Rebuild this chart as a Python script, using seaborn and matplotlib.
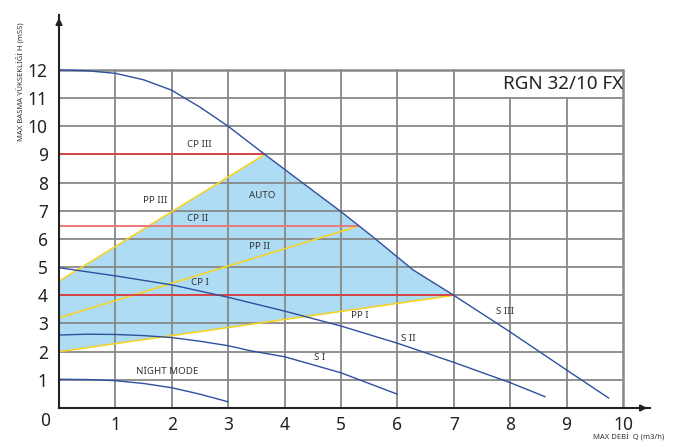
import matplotlib
matplotlib.use("Agg")
import matplotlib.pyplot as plt
import seaborn as sns

sns.set_theme(style="white")
plt.rcParams['font.family'] = ['Noto Sans', 'DejaVu Sans']

# ---- data ----
s3_q = [0, 0.5, 1, 1.5, 2, 2.23, 2.5, 3, 3.39, 3.65, 4.3, 5, 5.55, 6.28, 7, 8, 9, 9.75]
s3_h = [12, 11.97, 11.88, 11.65, 11.28, 11.0, 10.68, 10.0, 9.4, 9.0, 8.02, 6.97, 6.1, 4.9, 4.0, 2.7, 1.35, 0.35]
s2_q = [0, 1, 2, 3, 4, 5, 6, 7, 8, 8.62]
s2_h = [4.98, 4.69, 4.37, 3.93, 3.44, 2.91, 2.30, 1.62, 0.90, 0.40]
s1_q = [0, 0.5, 1, 1.5, 2, 2.5, 3, 3.4, 4, 5, 6]
s1_h = [2.59, 2.62, 2.61, 2.57, 2.50, 2.37, 2.21, 2.03, 1.82, 1.25, 0.49]
nm_q = [0, 0.5, 1, 1.5, 2, 2.5, 3]
nm_h = [1.02, 1.01, 0.97, 0.87, 0.72, 0.49, 0.22]

pp3_q = [0, 3.65]; pp3_h = [4.5, 9.0]
pp2_q = [0, 5.3];  pp2_h = [3.2, 6.45]
pp1_q = [0, 7];    pp1_h = [2.0, 4.0]
left_q = [0, 0];   left_h = [2.0, 4.5]

cp3_q = [0, 3.65]; cp3_h = [9.0, 9.0]
cp2_q = [0, 5.3];  cp2_h = [6.45, 6.45]
cp1_q = [0, 7];    cp1_h = [4.0, 4.0]

# AUTO region polygon: PP I, then S III up to PP III end, back down PP III
auto_q = [0, 7, 6.28, 5.55, 5, 4.3, 3.65, 0]
auto_h = [2.0, 4.0, 4.9, 6.1, 6.97, 8.02, 9.0, 4.5]

x_ticks = [1, 2, 3, 4, 5, 6, 7, 8, 9, 10]
y_ticks = [1, 2, 3, 4, 5, 6, 7, 8, 9, 10, 11, 12]

labels = [("CP III", 2.48, 9.34), ("PP III", 1.70, 7.35), ("CP II", 2.46, 6.71),
          ("AUTO", 3.60, 7.53), ("PP II", 3.55, 5.75), ("CP I", 2.50, 4.47),
          ("PP I", 5.34, 3.30), ("S II", 6.20, 2.45), ("S I", 4.63, 1.81),
          ("NİGHT MODE", 1.92, 1.28), ("S III", 7.90, 3.44)]
title = "RGN 32/10 FX"
xlabel = "MAX DEBİ  Q (m3/h)"
ylabel = "MAX BASMA YÜKSEKLİĞİ H (mSS)"

# ---- figure ----
W, H = 685, 447
fig = plt.figure(figsize=(W / 100, H / 100), dpi=100)
ax = fig.add_axes([59 / W, 39 / H, (650 - 59) / W, (408 - 15) / H])
ax.set_xlim(0, 10.48)
ax.set_ylim(0, 13.95)
ax.set_facecolor("white")

# fill
ax.fill(auto_q, auto_h, color="#aedcf4", zorder=1, lw=0)

# grid
grid_c = "#888888"
for q in x_ticks:
    top = 11 if q in (8, 9) else 12
    ax.plot([q, q], [0, top], color=grid_c, lw=1.3 if q != 10 else 1.8, zorder=2)
for h in y_ticks:
    ax.plot([0, 10], [h, h], color=grid_c, lw=1.3 if h != 12 else 1.8, zorder=2)

# curves
blue = "#2f4f9f"
for q, h in [(s3_q, s3_h), (s2_q, s2_h), (s1_q, s1_h), (nm_q, nm_h)]:
    sns.lineplot(x=q, y=h, ax=ax, color=blue, lw=1.0, sort=False, zorder=5)
yellow = "#f5d327"
for q, h in [(pp3_q, pp3_h), (pp2_q, pp2_h), (pp1_q, pp1_h), (left_q, left_h)]:
    sns.lineplot(x=q, y=h, ax=ax, color=yellow, lw=1.2, sort=False, zorder=4)
sns.lineplot(x=cp3_q, y=cp3_h, ax=ax, color="#e0393b", lw=1.2, sort=False, zorder=4)
sns.lineplot(x=cp2_q, y=cp2_h, ax=ax, color="#e8797a", lw=1.4, sort=False, zorder=4)
sns.lineplot(x=cp1_q, y=cp1_h, ax=ax, color="#e0393b", lw=1.2, sort=False, zorder=4)

for txt, q, h in labels:
    ax.text(q, h, txt, fontsize=7, color="#333333", ha="center", va="center", zorder=6)

ax.text(10, 11.5, title, fontsize=13.5, ha="right", va="center", color="#222222", zorder=6)

# axes / ticks
for s in ("top", "right"):
    ax.spines[s].set_visible(False)
for s in ("left", "bottom"):
    ax.spines[s].set_color("#222222")
    ax.spines[s].set_linewidth(1.5)
    ax.spines[s].set_zorder(7)
ax.set_xticks(x_ticks)
ax.set_yticks(y_ticks)
ax.set_xticklabels([str(t) for t in x_ticks])
ax.set_yticklabels([str(t) for t in y_ticks])
ax.tick_params(axis="both", length=0, labelsize=12.5, colors="#222222")
ax.tick_params(axis="x", pad=6)
ax.tick_params(axis="y", pad=8)
ax.text(-0.25, -0.45, "0", fontsize=12.5, ha="center", va="center", color="#222222")

# arrows
ax.annotate("", xy=(0, 13.95), xytext=(0, 13.0),
            arrowprops=dict(arrowstyle="-|>", color="#222222", lw=1.2, mutation_scale=10),
            annotation_clip=False)
ax.annotate("", xy=(10.48, 0), xytext=(10.0, 0),
            arrowprops=dict(arrowstyle="-|>", color="#222222", lw=1.2, mutation_scale=10),
            annotation_clip=False)

fig.text(629 / W, 1 - 437 / H, xlabel, fontsize=5.5, ha="center", va="center", color="#333333")
fig.text(20 / W, 1 - 82 / H, ylabel, fontsize=5.5, ha="center", va="center", rotation=90, color="#333333")

fig.savefig("out.png", dpi=100)
